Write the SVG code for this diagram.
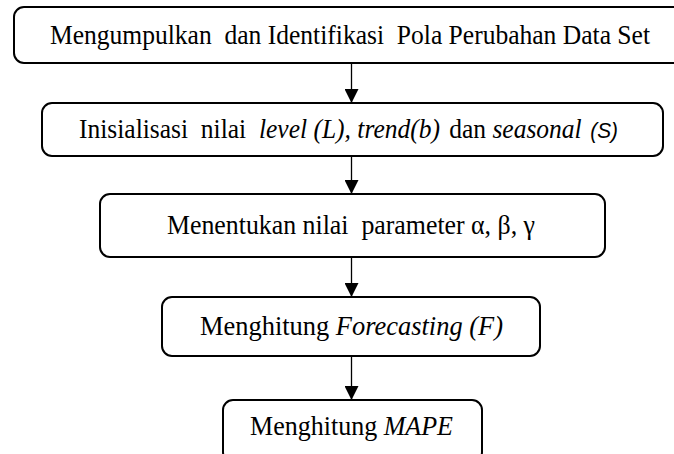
<svg xmlns="http://www.w3.org/2000/svg" width="674" height="454" viewBox="0 0 674 454">
<style>
.box{fill:#fff;stroke:#000;stroke-width:2}
.t{font-family:"Liberation Serif","Times New Roman",serif;font-size:27px;fill:#000}
.i{font-style:italic}
.s{font-family:"Liberation Sans",Arial,sans-serif;font-style:italic;font-size:22px}
.c{stroke:#000;stroke-width:1.3;fill:none}
</style>
<defs>
<marker id="ah" viewBox="0 0 14 14" refX="14" refY="7" markerWidth="14" markerHeight="14" markerUnits="userSpaceOnUse" orient="auto">
<path d="M0,0 L14,7 L0,14 Z" fill="#000"/>
</marker>
</defs>
<rect width="674" height="454" fill="#fff"/>
<g id="connectors">
<line class="c" x1="351.5" y1="63" x2="351.5" y2="103" marker-end="url(#ah)"/>
<line class="c" x1="351.5" y1="156" x2="351.5" y2="194" marker-end="url(#ah)"/>
<line class="c" x1="351.5" y1="257" x2="351.5" y2="297" marker-end="url(#ah)"/>
<line class="c" x1="351.5" y1="356" x2="351.5" y2="400" marker-end="url(#ah)"/>
</g>
<g id="n1">
<rect class="box" x="14" y="7" width="674" height="56" rx="10"/>
<text class="t" x="50" y="43.5" textLength="600" lengthAdjust="spacingAndGlyphs" xml:space="preserve">Mengumpulkan  dan Identifikasi  Pola Perubahan Data Set</text>
</g>
<g id="n2">
<rect class="box" x="42" y="103" width="621" height="53" rx="10"/>
<text class="t" x="79" y="138" textLength="539" lengthAdjust="spacingAndGlyphs" xml:space="preserve">Inisialisasi  nilai  <tspan class="i">level (L), trend(b)</tspan><tspan dx="3"> dan </tspan><tspan class="i">seasonal</tspan><tspan dx="3" class="s"> (S)</tspan></text>
</g>
<g id="n3">
<rect class="box" x="100" y="194" width="505" height="63" rx="10"/>
<text class="t" x="167" y="233.5" textLength="368" lengthAdjust="spacingAndGlyphs" xml:space="preserve">Menentukan nilai  parameter α, β, γ</text>
</g>
<g id="n4">
<rect class="box" x="162" y="297" width="378" height="59" rx="10"/>
<text class="t" x="200" y="335" textLength="303" lengthAdjust="spacingAndGlyphs">Menghitung <tspan class="i">Forecasting (F)</tspan></text>
</g>
<g id="n5">
<rect class="box" x="223" y="400" width="259" height="62" rx="10"/>
<text class="t" x="250" y="435" textLength="203" lengthAdjust="spacingAndGlyphs">Menghitung <tspan class="i">MAPE</tspan></text>
</g>
</svg>
